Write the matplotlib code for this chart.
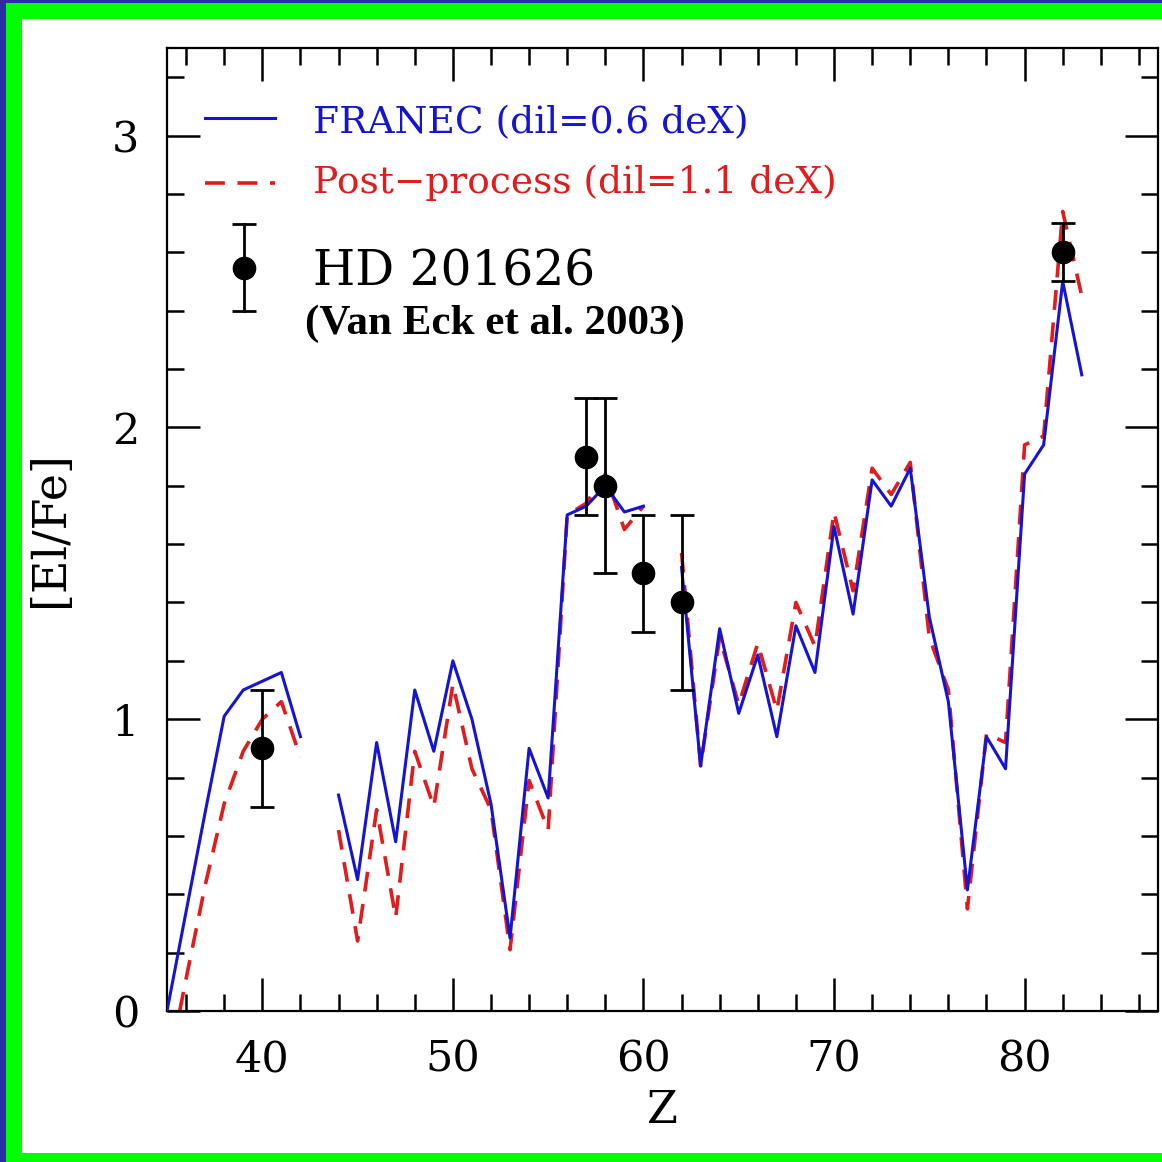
import numpy as np
import matplotlib
matplotlib.use("Agg")
import matplotlib.pyplot as plt
from matplotlib.patches import Rectangle
from matplotlib.ticker import MultipleLocator

nan = np.nan

# atomic number Z (43 = Tc and 61 = Pm have no value)
z = np.arange(35, 84)

franec = [0.00, 0.34, 0.68, 1.01, 1.10, 1.13, 1.16, 0.94, nan,
          0.74, 0.45, 0.92, 0.58, 1.10, 0.89, 1.20, 1.00, 0.71, 0.25,
          0.90, 0.73, 1.70, 1.73, 1.80, 1.71, 1.73, nan,
          1.52, 0.84, 1.31, 1.02, 1.22, 0.94, 1.32, 1.16, 1.66, 1.36,
          1.82, 1.73, 1.86, 1.35, 1.06, 0.415, 0.94, 0.83, 1.84, 1.94,
          2.50, 2.18]

postproc = [-0.22, 0.11, 0.43, 0.71, 0.89, 1.00, 1.06, 0.87, nan,
            0.62, 0.24, 0.69, 0.32, 0.89, 0.70, 1.12, 0.83, 0.69, 0.21,
            0.79, 0.62, 1.70, 1.74, 1.84, 1.65, 1.73, nan,
            1.57, 0.84, 1.28, 1.05, 1.26, 1.03, 1.40, 1.25, 1.71, 1.44,
            1.86, 1.77, 1.88, 1.28, 1.10, 0.35, 0.95, 0.92, 1.94, 1.97,
            2.74, 2.45]

# HD 201626 (Van Eck et al. 2003)
obs_z = [40, 57, 58, 60, 62, 82]
obs_val = [0.9, 1.9, 1.8, 1.5, 1.4, 2.6]
obs_err = [0.2, 0.2, 0.3, 0.2, 0.3, 0.1]

blue = "#1414d2"
red = "#e01c1c"
serif = "DejaVu Serif"

fig = plt.figure(figsize=(11.62, 11.62), dpi=100)

# green / blue frame around the slide
W = H = 1162.0
for (x0, y0, w, h, c) in [(0, 0, 6, H, "#2c2ca8"), (0, H - 3, W, 3, "#2c2ca8"),
                          (6, 0, 16, H - 3, "#00ff00"), (6, H - 19, W, 16, "#00ff00"),
                          (6, 0, W, 9, "#00ff00")]:
    fig.add_artist(Rectangle((x0 / W, y0 / H), w / W, h / H, transform=fig.transFigure,
                             color=c, lw=0, zorder=0))

ax = fig.add_axes([167 / W, 151 / H, 991 / W, 963 / H])

ax.plot(z, franec, color=blue, lw=2.2, zorder=3)
ln, = ax.plot(z, postproc, color=red, lw=2.6, ls="--", zorder=2)
ln.set_dashes((5.5, 3.5))
ax.errorbar(obs_z, obs_val, yerr=obs_err, fmt="o", color="black", ms=16,
            elinewidth=2, capsize=8.5, capthick=2, zorder=4)

ax.set_xlim(35, 87)
ax.set_ylim(0, 3.3)
ax.xaxis.set_major_locator(MultipleLocator(10))
ax.xaxis.set_minor_locator(MultipleLocator(2))
ax.yaxis.set_major_locator(MultipleLocator(1))
ax.yaxis.set_minor_locator(MultipleLocator(0.2))
ax.tick_params(which="both", direction="in", top=True, right=True, color="black")
ax.tick_params(which="major", length=24, width=1.8, labelsize=31, pad=20)
ax.tick_params(which="minor", length=12, width=1.8)
for lab in ax.get_xticklabels() + ax.get_yticklabels():
    lab.set_fontfamily(serif)
for s in ax.spines.values():
    s.set_linewidth(1.6)

ax.set_xlabel("Z", fontsize=32, family=serif, labelpad=6)
ax.set_ylabel("[El/Fe]", fontsize=33, family=serif, labelpad=28)

# legend drawn by hand
t = ax.transAxes
ax.plot([0.038, 0.109], [0.927, 0.927], color=blue, lw=2.2, transform=t)
lk, = ax.plot([0.038, 0.109], [0.860, 0.860], color=red, lw=2.6, ls="--", transform=t)
lk.set_dashes((5.5, 3.5))
ax.plot([0.0777, 0.0777], [0.727, 0.817], color="black", lw=2, transform=t)
ax.plot([0.0777], [0.7715], "o", color="black", ms=16, transform=t)
ax.plot([0.0777, 0.0777], [0.727, 0.817], ls="none", marker="_", ms=17,
        mew=2, color="black", transform=t)

ax.text(0.1473, 0.922, "FRANEC (dil=0.6 deX)", color=blue, fontsize=27,
        family=serif, va="center", transform=t)
ax.text(0.1473, 0.860, "Post\u2212process (dil=1.1 deX)", color=red, fontsize=27,
        family=serif, va="center", transform=t)
ax.text(0.1473, 0.767, "HD 201626", color="black", fontsize=35,
        family=serif, va="center", transform=t)
ax.text(0.3311, 0.714, "(Van Eck et al. 2003)", color="black", fontsize=31,
        family="Liberation Serif", weight="bold", ha="center", va="center",
        transform=t)

fig.savefig("out.png", dpi=100)
